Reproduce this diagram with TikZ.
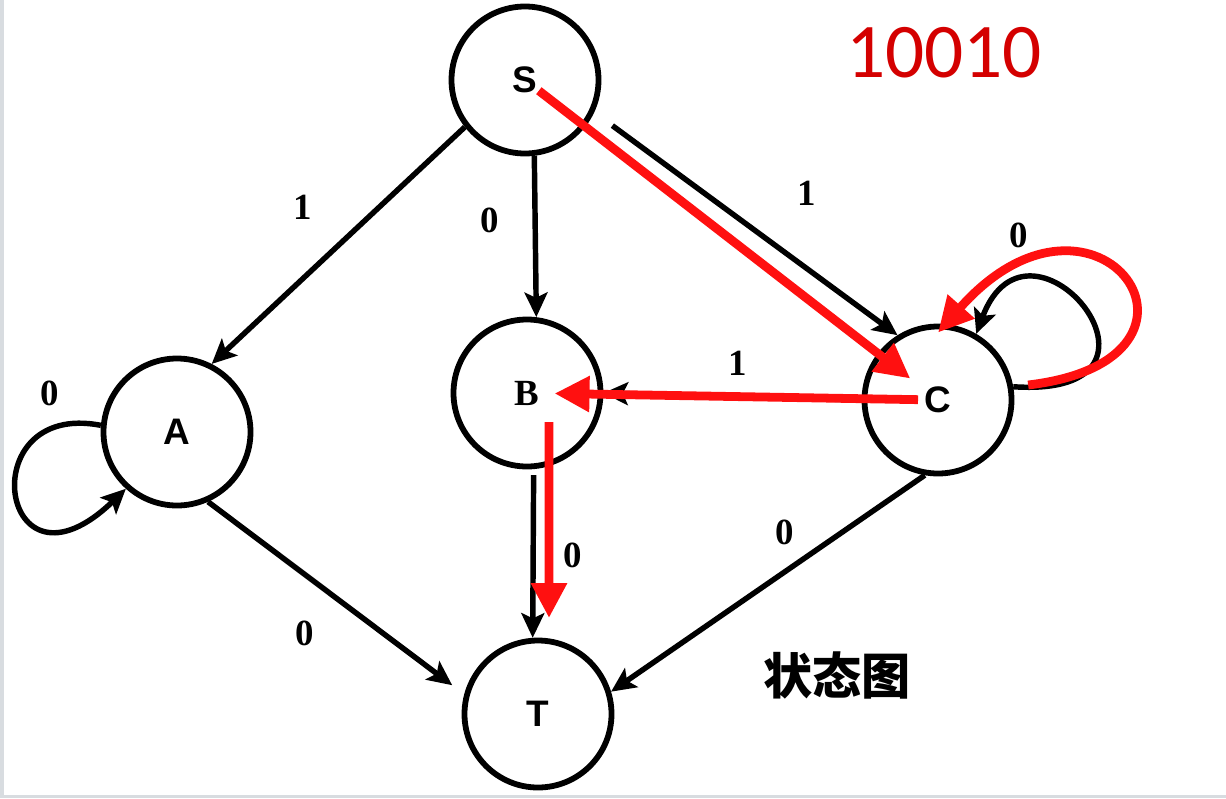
\documentclass[tikz,border=0pt]{standalone}
\usepackage{fontspec}
\setmainfont{Liberation Serif}
\newfontfamily\sansletra{Liberation Sans}
\newfontfamily\cifras{Carlito}
\newfontfamily\cjk{Noto Sans CJK SC}
\usepackage{xcolor}
\definecolor{rojo}{HTML}{FF1010}
\definecolor{rojooscuro}{HTML}{D40000}
\definecolor{borde}{HTML}{D8DCE0}
\usetikzlibrary{arrows.meta}

\begin{document}
\begin{tikzpicture}[
  st/.style={
    circle, draw=black, line width=3.3pt,
    minimum size=2.94cm, inner sep=0pt,
    font=\sansletra\bfseries\fontsize{21}{24}\selectfont
  },
  arr/.style={-{Stealth[length=14pt, width=13pt, inset=3pt]}, line width=3.1pt},
  redarr/.style={-{Triangle[length=0.7cm, width=0.68cm]}, rojo, line width=5pt},
  lab/.style={font=\bfseries\fontsize{21}{24}\selectfont}
]
  \useasboundingbox (0,0) rectangle (24.52,-15.96);
  \fill[borde] (0,0) rectangle (0.08,-15.96);
  \fill[borde] (0,-15.9) rectangle (24.52,-15.96);

  \node[st] (S) at (10.5,-1.6) {S};
  \node[st] (A) at (3.54,-8.64) {A};
  \node[st, font=\bfseries\fontsize{21}{24}\selectfont] (B) at (10.54,-7.86) {B};
  \node[st] (C) at (18.76,-8.0) {C};
  \node[st] (T) at (10.76,-14.28) {T};

  % black transitions
  \foreach \a/\b in {S.218/A.63, S.277/B.83, C.-100/T.17, C.180/B.0}
    \draw[arr] (\a) -- (\b);
  \draw[arr, shorten <=0.45cm] (S.-25) -- (C.122);
  \draw[arr, shorten <=0.12cm] (B.-85) -- (T.94);
  \draw[arr, shorten >=0.3cm] (A.-66) -- (T.165);
  \draw[arr] (A.175) .. controls +(-2.63,0.51) and +(-2.52,-2.43) .. (A.228);
  \draw[arr] (C.10) .. controls +(3.73,-0.25) and +(1.08,2.88) .. (C.60);

  % red path 10010
  \draw[redarr, shorten <=0.35cm, shorten >=0.7cm] (S.center) -- (C.center);
  \draw[redarr, shorten <=0.4cm, shorten >=0.55cm] (C.center) -- (B.center);
  \draw[redarr] ([xshift=0.44cm, yshift=-0.58cm]B.center) -- ([xshift=0.22cm, yshift=0.39cm]T.north);
  \draw[redarr, shorten <=0.3cm] (C.10) .. controls +(4.6,0.54) and +(3.2,3.6) .. ([yshift=-0.18cm]C.north);

  % labels
  \node[lab] (l1) at (6.06,-4.14) {1};
  \node[lab] (l2) at (9.8,-4.4) {0};
  \node[lab] (l3) at (16.14,-3.86) {1};
  \node[lab] (l4) at (20.38,-4.7) {0};
  \node[lab] (l5) at (1.0,-7.86) {0};
  \node[lab] (l6) at (14.76,-7.26) {1};
  \node[lab] (l7) at (11.46,-11.1) {0};
  \node[lab] (l8) at (15.7,-10.64) {0};
  \node[lab] (l9) at (6.1,-12.66) {0};
  \node[font=\cifras\fontsize{44}{50}\selectfont, text=rojooscuro] (codigo) at (18.88,-1.06) {10010};
  \node[font=\cjk\bfseries\fontsize{28}{32}\selectfont] (titulo) at (16.74,-13.5) {状态图};
\end{tikzpicture}
\end{document}
